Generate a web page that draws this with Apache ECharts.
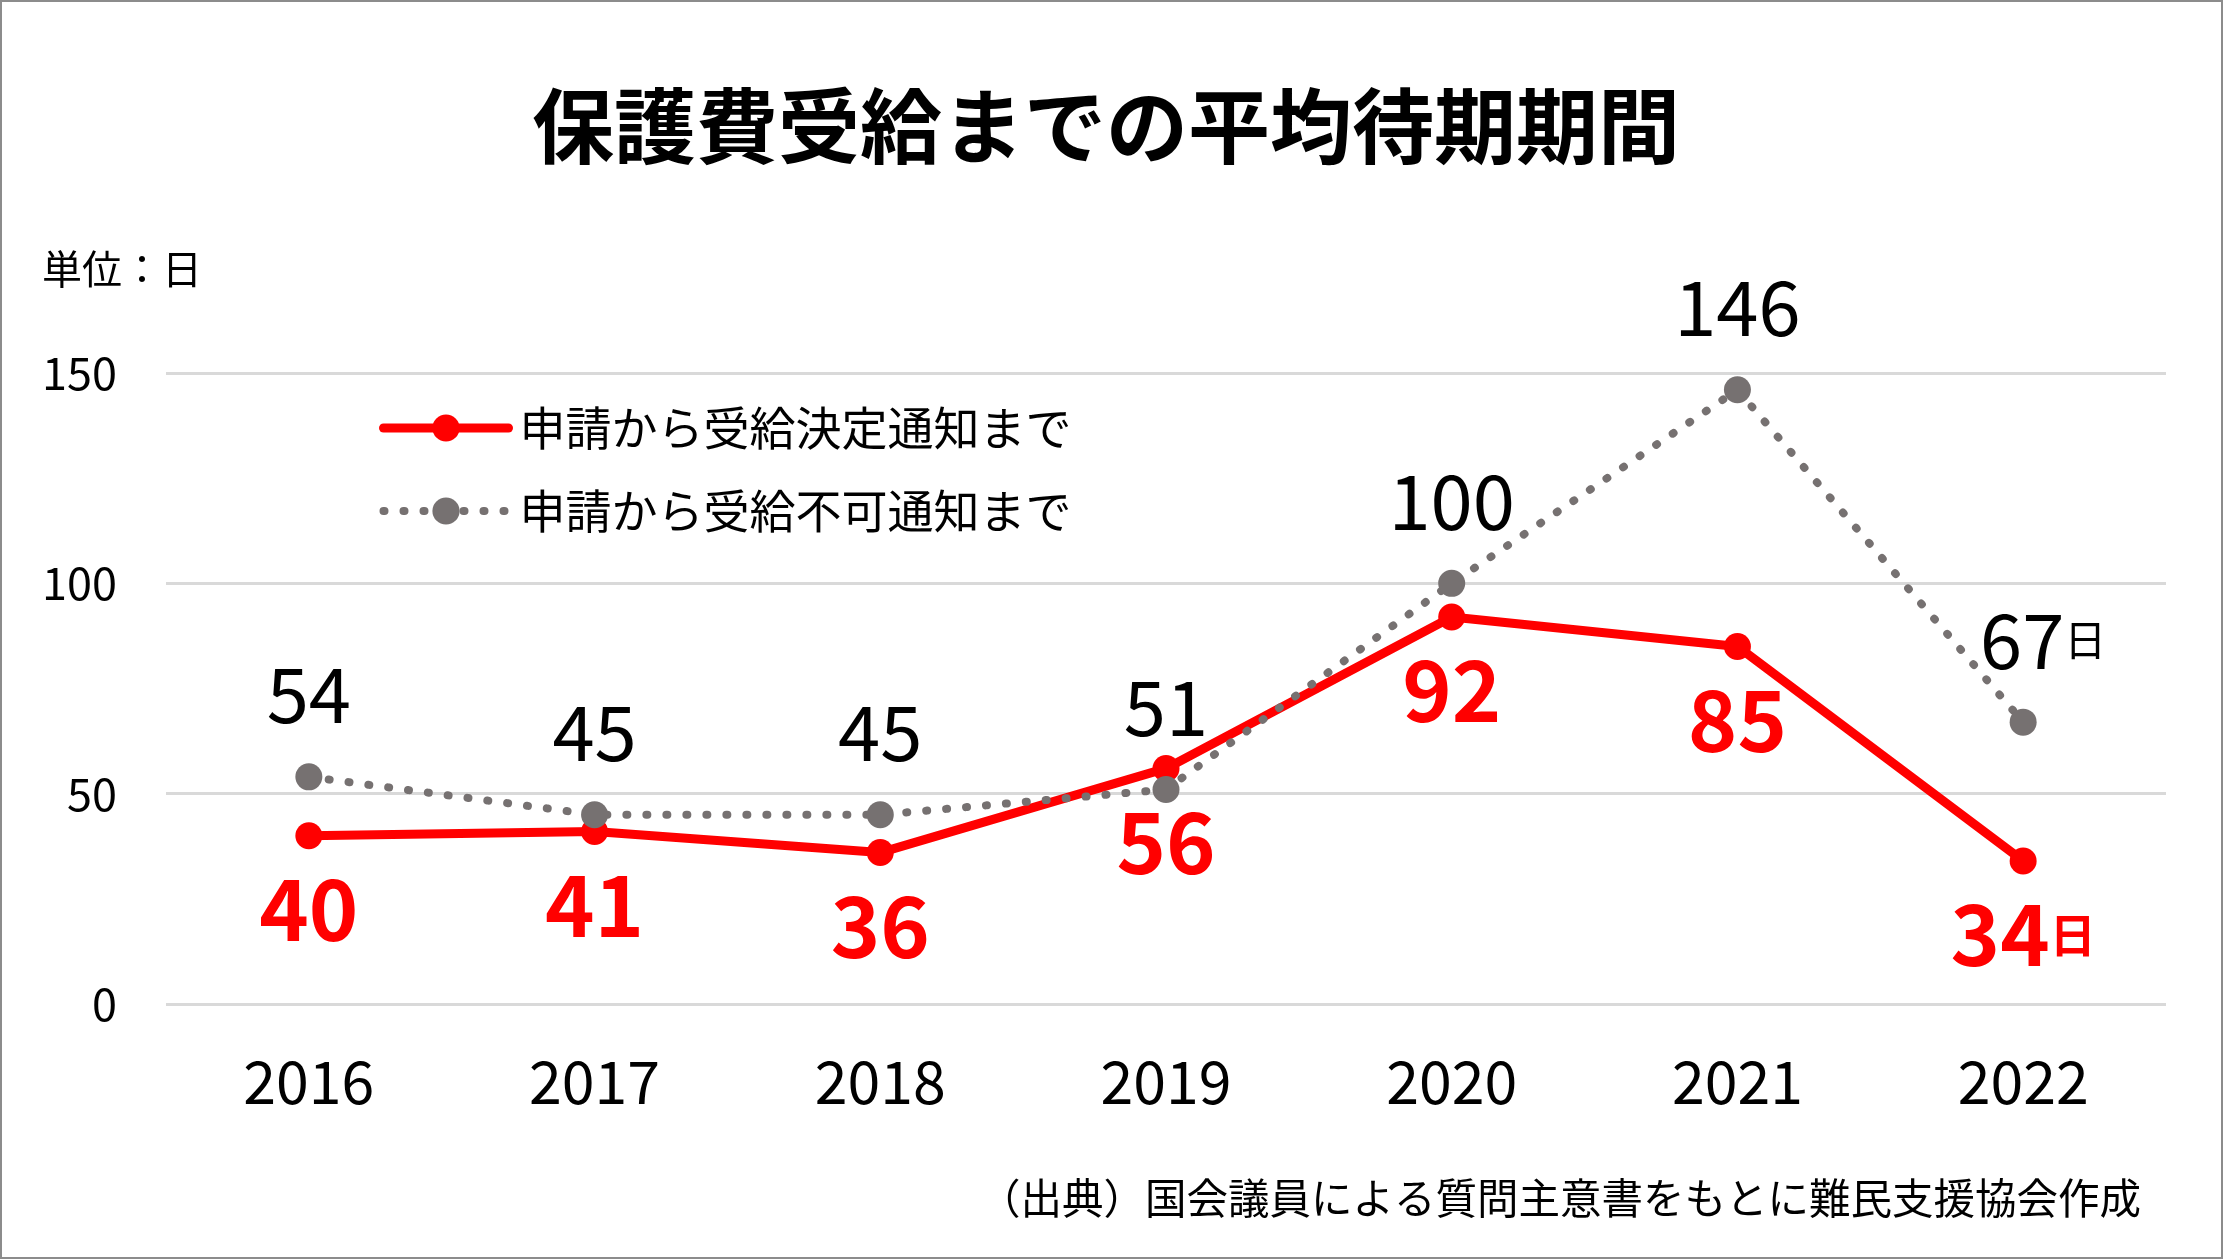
<!DOCTYPE html>
<html>
<head>
<meta charset="utf-8">
<script src="https://cdn.jsdelivr.net/npm/echarts@6/dist/echarts.min.js"></script>
<style>
html,body{margin:0;padding:0;background:#fff;}
#chart{width:2223px;height:1259px;}
</style>
</head>
<body>
<div id="chart"></div>
<script>
// ---- data ----
const titleText = '保護費受給までの平均待期期間';
const unitText = '単位：日';
const sourceText = '（出典）国会議員による質問主意書をもとに難民支援協会作成';
const categories = ['2016', '2017', '2018', '2019', '2020', '2021', '2022'];
const seriesNames = ['申請から受給決定通知まで', '申請から受給不可通知まで'];
const decisionDays = [40, 41, 36, 56, 92, 85, 34];
const rejectionDays = [54, 45, 45, 51, 100, 146, 67];
const yMin = 0, yMax = 150, yInterval = 50;
const unitSuffix = '日';

// ---- chart ----
const FONT = '"Noto Sans CJK JP", "Noto Sans", sans-serif';
const RED = '#FF0000';
const GRAY = '#767171';
const last = categories.length - 1;

const chart = echarts.init(document.getElementById('chart'), null, {renderer: 'canvas'});

function fmt(p) {
  if (p.dataIndex === last) return '{v|' + p.value + '}{u|' + unitSuffix + '}';
  return '{v|' + p.value + '}';
}

const redLine = {color: RED, width: 9, cap: 'round', join: 'round'};
const grayLine = {color: GRAY, width: 8, type: [1, 19], cap: 'round'};

const option = {
  backgroundColor: '#ffffff',
  animation: false,
  textStyle: {fontFamily: FONT},
  grid: {left: 166, right: 57, top: 373, bottom: 255},
  legend: {
    orient: 'vertical',
    left: 374,
    top: 398,
    itemWidth: 125,
    itemHeight: 34,
    itemGap: 33,
    textStyle: {fontFamily: FONT, fontSize: 46, color: '#000', lineHeight: 50, padding: [0, 0, 0, 6]},
    data: [
      {name: seriesNames[0], lineStyle: redLine},
      {name: seriesNames[1], lineStyle: grayLine}
    ]
  },
  xAxis: {
    type: 'category',
    data: categories,
    boundaryGap: true,
    axisLine: {show: false},
    axisTick: {show: false},
    axisLabel: {fontFamily: FONT, fontSize: 59, color: '#000', margin: 48}
  },
  yAxis: {
    type: 'value',
    min: yMin,
    max: yMax,
    interval: yInterval,
    axisLine: {show: false},
    axisTick: {show: false},
    axisLabel: {fontFamily: FONT, fontSize: 45, color: '#000', margin: 49},
    splitLine: {lineStyle: {color: '#D9D9D9', width: 3}}
  },
  series: [
    {
      name: seriesNames[0],
      type: 'line',
      data: decisionDays,
      symbol: 'circle',
      symbolSize: 27,
      itemStyle: {color: RED},
      lineStyle: redLine,
      label: {
        show: true,
        position: 'bottom',
        distance: 18,
        formatter: fmt,
        rich: {
          v: {fontFamily: FONT, fontSize: 84, fontWeight: 'bold', color: RED},
          u: {fontFamily: FONT, fontSize: 46, fontWeight: 'bold', color: RED}
        }
      }
    },
    {
      name: seriesNames[1],
      type: 'line',
      data: rejectionDays.map((v, i) => i === last ? {value: v, label: {offset: [20, 0]}} : v),
      symbol: 'circle',
      symbolSize: 27,
      itemStyle: {color: GRAY},
      lineStyle: grayLine,
      label: {
        show: true,
        position: 'top',
        distance: 31,
        formatter: fmt,
        rich: {
          v: {fontFamily: FONT, fontSize: 76, color: '#000'},
          u: {fontFamily: FONT, fontSize: 42, color: '#000'}
        }
      }
    }
  ],
  graphic: [
    {
      type: 'rect', silent: true, z: 100,
      shape: {x: 0, y: 0, width: 2223, height: 1259},
      style: {fill: 'none', stroke: '#8c8c8c', lineWidth: 4}
    },
    {
      type: 'text', silent: true, x: 1106, y: 126,
      style: {text: titleText, fontFamily: FONT, fontSize: 82, fontWeight: 'bold', fill: '#000',
              textAlign: 'center', textVerticalAlign: 'middle'}
    },
    {
      type: 'text', silent: true, x: 42, y: 269,
      style: {text: unitText, fontFamily: FONT, fontSize: 40, fill: '#000',
              textAlign: 'left', textVerticalAlign: 'middle'}
    },
    {
      type: 'text', silent: true, x: 2141, y: 1198,
      style: {text: sourceText, fontFamily: FONT, fontSize: 41.5, fill: '#000',
              textAlign: 'right', textVerticalAlign: 'middle'}
    }
  ]
};
chart.setOption(option);
</script>
</body>
</html>
